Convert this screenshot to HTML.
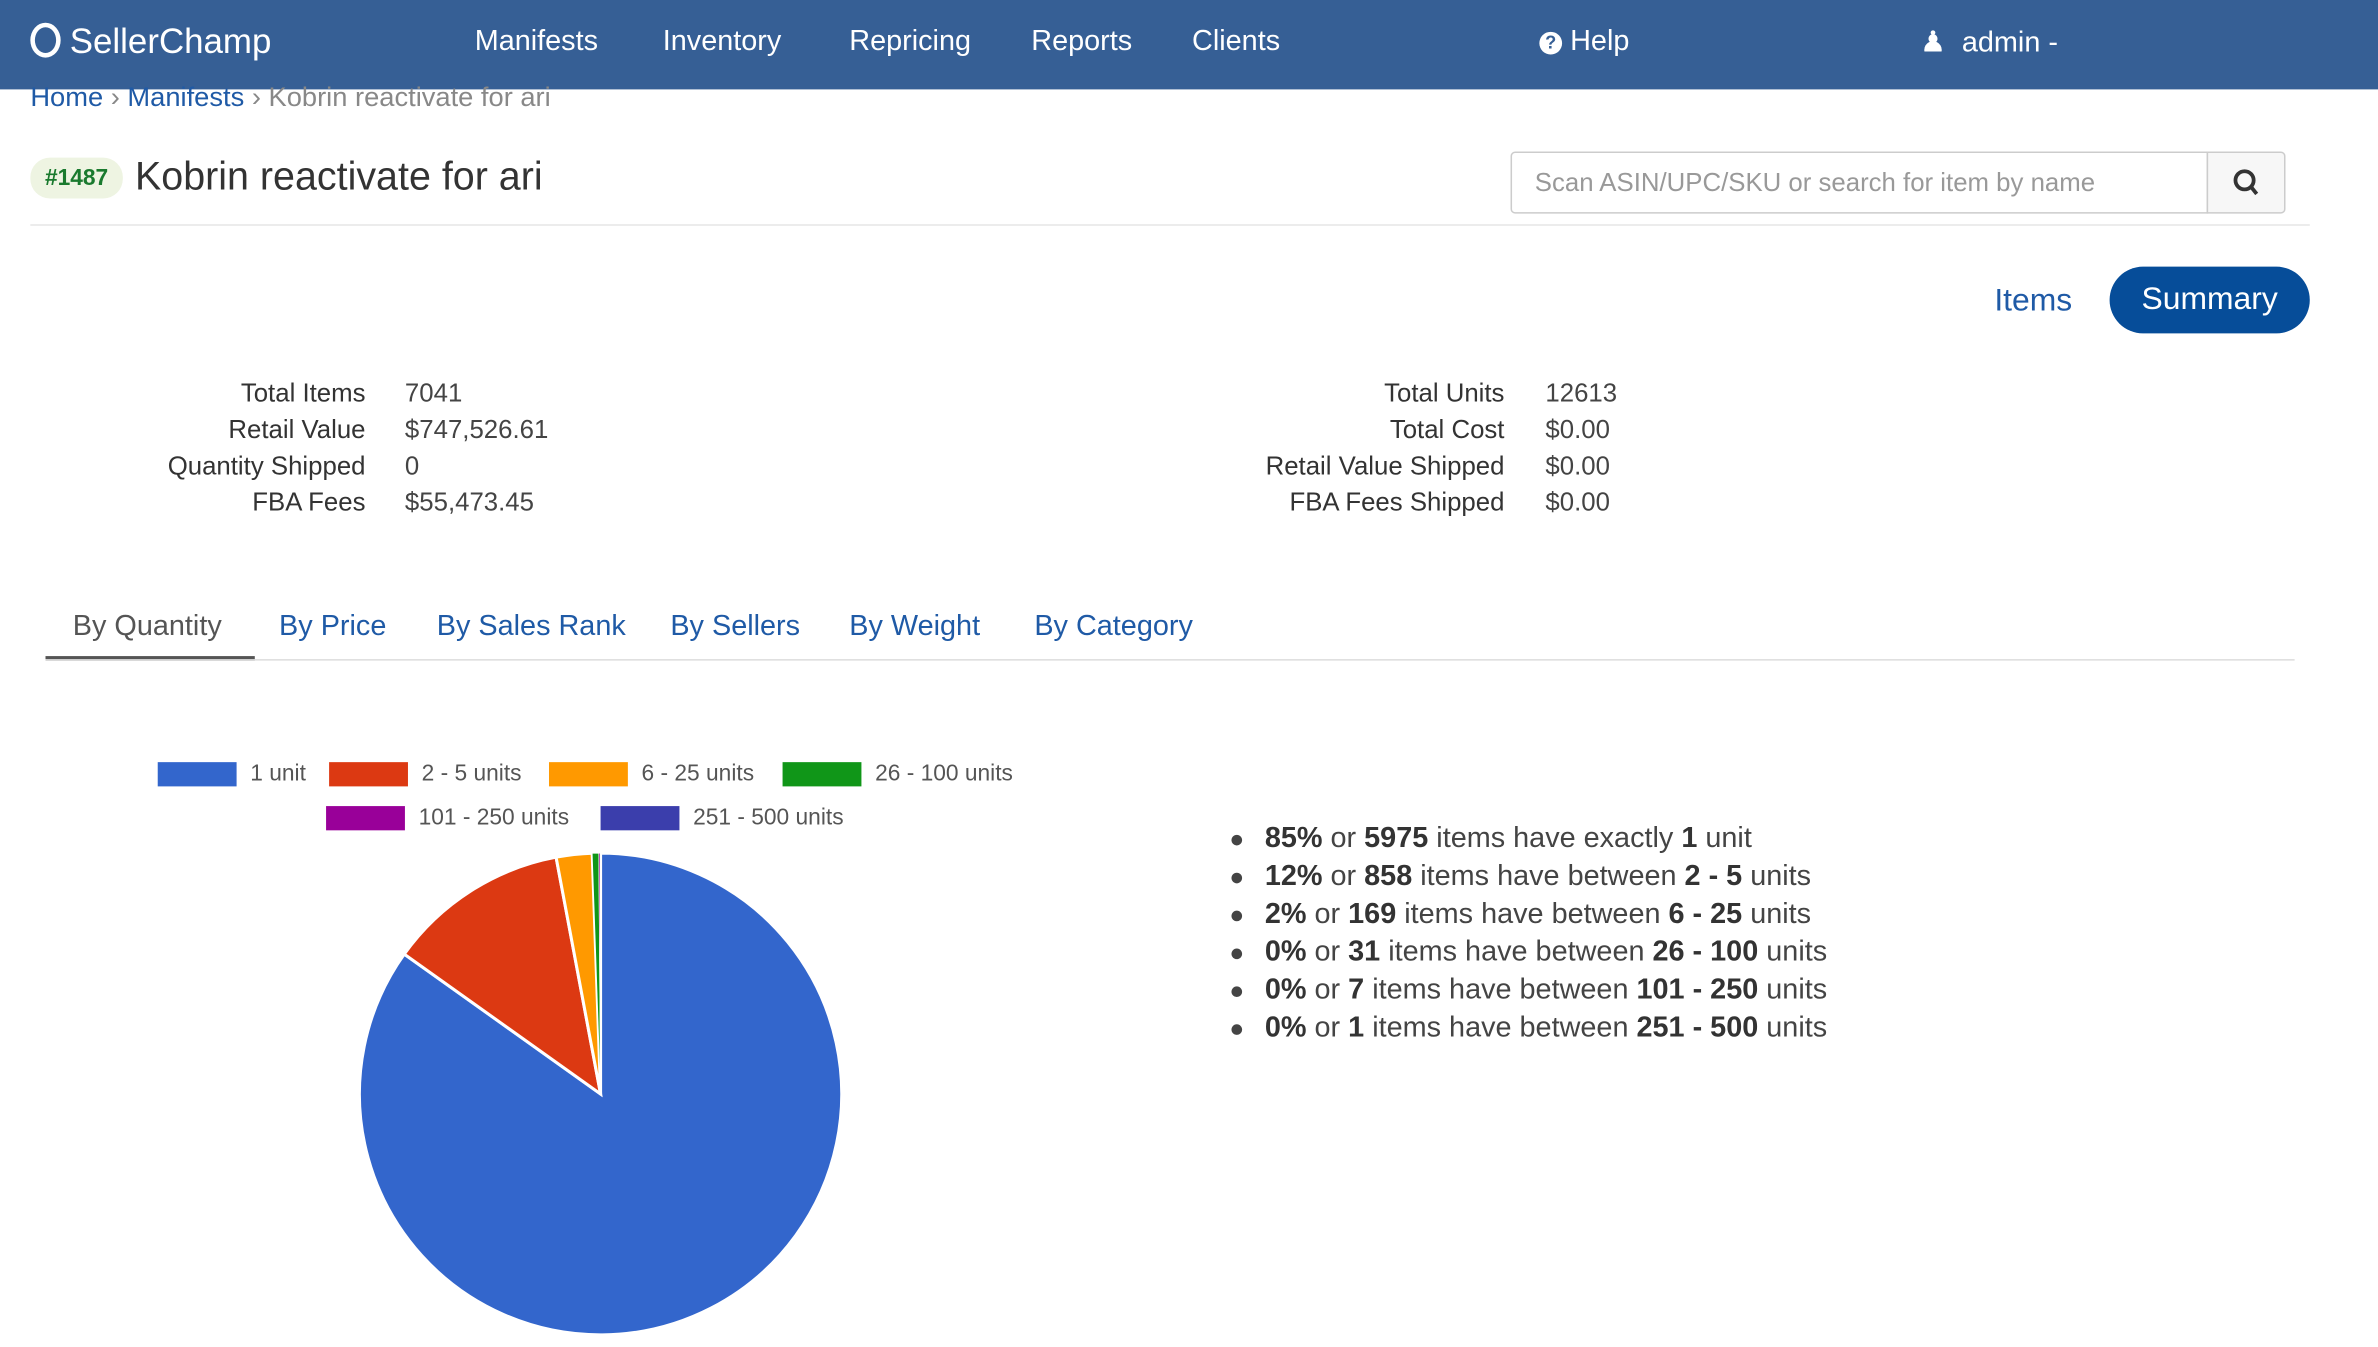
<!DOCTYPE html>
<html><head><meta charset="utf-8">
<style>
html,body{margin:0;padding:0;background:#fff;overflow:hidden;width:2378px;height:1344px}
#wrap{position:absolute;left:0;top:0;width:1568px;height:887px;transform:scale(1.5166,1.5152) translateY(2px);transform-origin:0 0;font-family:"Liberation Sans",sans-serif}
.a{position:absolute;white-space:nowrap}
.nav{color:#fff;font-size:19px;top:15px}
.lbl{font-size:17px;color:#333;text-align:right}
.val{font-size:17px;color:#444}
.tab{font-size:19px;color:#1f5aa6;top:401px}
.li{font-size:19px;color:#444;left:834px}
.li b{color:#333}
.dot{position:absolute;left:-22px;top:8px;width:7px;height:7px;border-radius:50%;background:#444}
.lg{font-size:15px;color:#555}
.sw{position:absolute;width:52px;height:16px}
</style></head><body>
<div id="wrap">
<div class="a" style="left:0;top:-3px;width:1568px;height:60px;background:#365f95"></div>
<div class="a" style="left:20px;top:12px;color:#fff;font-size:23px"><span style="display:inline-block;width:14px;height:17px;border:3px solid #fff;border-radius:50%;vertical-align:-3px;margin-right:6px"></span>SellerChamp</div>
<div class="a nav" style="left:313px">Manifests</div>
<div class="a nav" style="left:437px">Inventory</div>
<div class="a nav" style="left:560px">Repricing</div>
<div class="a nav" style="left:680px">Reports</div>
<div class="a nav" style="left:786px">Clients</div>
<div class="a nav" style="left:1015px"><span style="display:inline-block;width:15px;height:15px;border-radius:50%;background:#fff;color:#365f95;font-size:12px;text-align:center;line-height:15px;font-weight:bold;vertical-align:1px">?</span> Help</div>
<div class="a nav" style="left:1266px">&#9823;&nbsp; admin -</div>

<div class="a" style="left:20px;top:52px;font-size:18px;color:#888"><span style="color:#1f5aa6">Home</span> › <span style="color:#1f5aa6">Manifests</span> › Kobrin reactivate for ari</div>
<div class="a" style="left:20px;top:102px;width:61px;height:27px;border-radius:13px;background:#eef4e2;color:#1a7a2e;font-size:15px;font-weight:bold;text-align:center;line-height:27px">#1487</div>
<div class="a" style="left:89px;top:99px;font-size:26px;color:#333">Kobrin reactivate for ari</div>
<div class="a" style="left:996px;top:98px;width:460px;height:41px;border:1px solid #ccc;border-radius:3px 0 0 3px;font-size:17px;color:#999;line-height:40px;padding-left:15px;box-sizing:border-box">Scan ASIN/UPC/SKU or search for item by name</div>
<div class="a" style="left:1455px;top:98px;width:52px;height:41px;border:1px solid #ccc;border-radius:0 3px 3px 0;background:#f7f7f7;box-sizing:border-box"><svg width="50" height="38"><circle cx="24" cy="18" r="6" fill="none" stroke="#333" stroke-width="2.5"/><line x1="28" y1="22" x2="32" y2="27" stroke="#333" stroke-width="2.5"/></svg></div>
<div class="a" style="left:20px;top:146px;width:1503px;height:1px;background:#e6e6e6"></div>
<div class="a" style="left:1315px;top:185px;font-size:21px;color:#1f5aa6">Items</div>
<div class="a" style="left:1391px;top:174px;width:132px;height:44px;border-radius:22px;background:#064d99;color:#fff;font-size:21px;text-align:center;line-height:44px">Summary</div>

<div class="a lbl" style="right:1327px;top:248px">Total Items</div>
<div class="a lbl" style="right:1327px;top:272px">Retail Value</div>
<div class="a lbl" style="right:1327px;top:296px">Quantity Shipped</div>
<div class="a lbl" style="right:1327px;top:320px">FBA Fees</div>
<div class="a val" style="left:267px;top:248px">7041</div>
<div class="a val" style="left:267px;top:272px">$747,526.61</div>
<div class="a val" style="left:267px;top:296px">0</div>
<div class="a val" style="left:267px;top:320px">$55,473.45</div>
<div class="a lbl" style="right:576px;top:248px">Total Units</div>
<div class="a lbl" style="right:576px;top:272px">Total Cost</div>
<div class="a lbl" style="right:576px;top:296px">Retail Value Shipped</div>
<div class="a lbl" style="right:576px;top:320px">FBA Fees Shipped</div>
<div class="a val" style="left:1019px;top:248px">12613</div>
<div class="a val" style="left:1019px;top:272px">$0.00</div>
<div class="a val" style="left:1019px;top:296px">$0.00</div>
<div class="a val" style="left:1019px;top:320px">$0.00</div>

<div class="a tab" style="left:48px;color:#555">By Quantity</div>
<div class="a" style="left:30px;top:431px;width:138px;height:3px;background:#555"></div>
<div class="a tab" style="left:184px">By Price</div>
<div class="a tab" style="left:288px">By Sales Rank</div>
<div class="a tab" style="left:442px">By Sellers</div>
<div class="a tab" style="left:560px">By Weight</div>
<div class="a tab" style="left:682px">By Category</div>
<div class="a" style="left:30px;top:433px;width:1483px;height:1px;background:#ddd"></div>

<div id="legend"></div>
<svg class="a" id="pie" style="left:0;top:440px" width="800" height="447"></svg>

<div id="list"></div>
</div>
<script>
const categories=["1 unit","2 - 5 units","6 - 25 units","26 - 100 units","101 - 250 units","251 - 500 units"];
const counts=[5975,858,169,31,7,1];
const percents=[85,12,2,0,0,0];
const colors=["#3366cc","#dc3912","#ff9900","#109618","#990099","#3b3eac"];
const legendPos=[[104,501],[217,501],[362,501],[516,501],[215,530],[396,530]];
const rangeLo=["1","2","6","26","101","251"],rangeHi=["","5","25","100","250","500"];
const wrap=document.getElementById('wrap');
categories.forEach((c,i)=>{
  const s=document.createElement('div');s.className='sw a';
  s.style.left=legendPos[i][0]+'px';s.style.top=legendPos[i][1]+'px';s.style.background=colors[i];
  
  
  wrap.appendChild(s);
  const t=document.createElement('div');t.className='a lg';
  t.style.left=(legendPos[i][0]+61)+'px';t.style.top=(legendPos[i][1]-1)+'px';t.textContent=c;
  
  
  wrap.appendChild(t);
});
const svg=document.getElementById('pie');const NS='http://www.w3.org/2000/svg';
const cx=396,cy=280,r=159;const total=counts.reduce((a,b)=>a+b,0);
let ang=0;
counts.forEach((v,i)=>{
  const a0=ang,a1=ang+v/total*2*Math.PI;ang=a1;
  const p=(a)=>[cx+r*Math.sin(a),cy-r*Math.cos(a)];
  const [x0,y0]=p(a0),[x1,y1]=p(a1);
  const path=document.createElementNS(NS,'path');
  path.setAttribute('d',`M${cx},${cy}L${x0},${y0}A${r},${r} 0 ${a1-a0>Math.PI?1:0} 1 ${x1},${y1}Z`);
  path.setAttribute('fill',colors[i]);path.setAttribute('stroke','#fff');path.setAttribute('stroke-width',v/total>0.005?2:0.5);
  
  
  svg.appendChild(path);
});
categories.forEach((c,i)=>{
  const d=document.createElement('div');d.className='a li';d.style.top=(541+i*25)+'px';
  d.innerHTML='<span class="dot"></span><b>'+percents[i]+'%</b> or <b>'+counts[i]+'</b> items have '+(i==0?'exactly <b>1</b> unit':'between <b>'+rangeLo[i]+' - '+rangeHi[i]+'</b> units');
  
  
  wrap.appendChild(d);
});
</script>
</body></html>
